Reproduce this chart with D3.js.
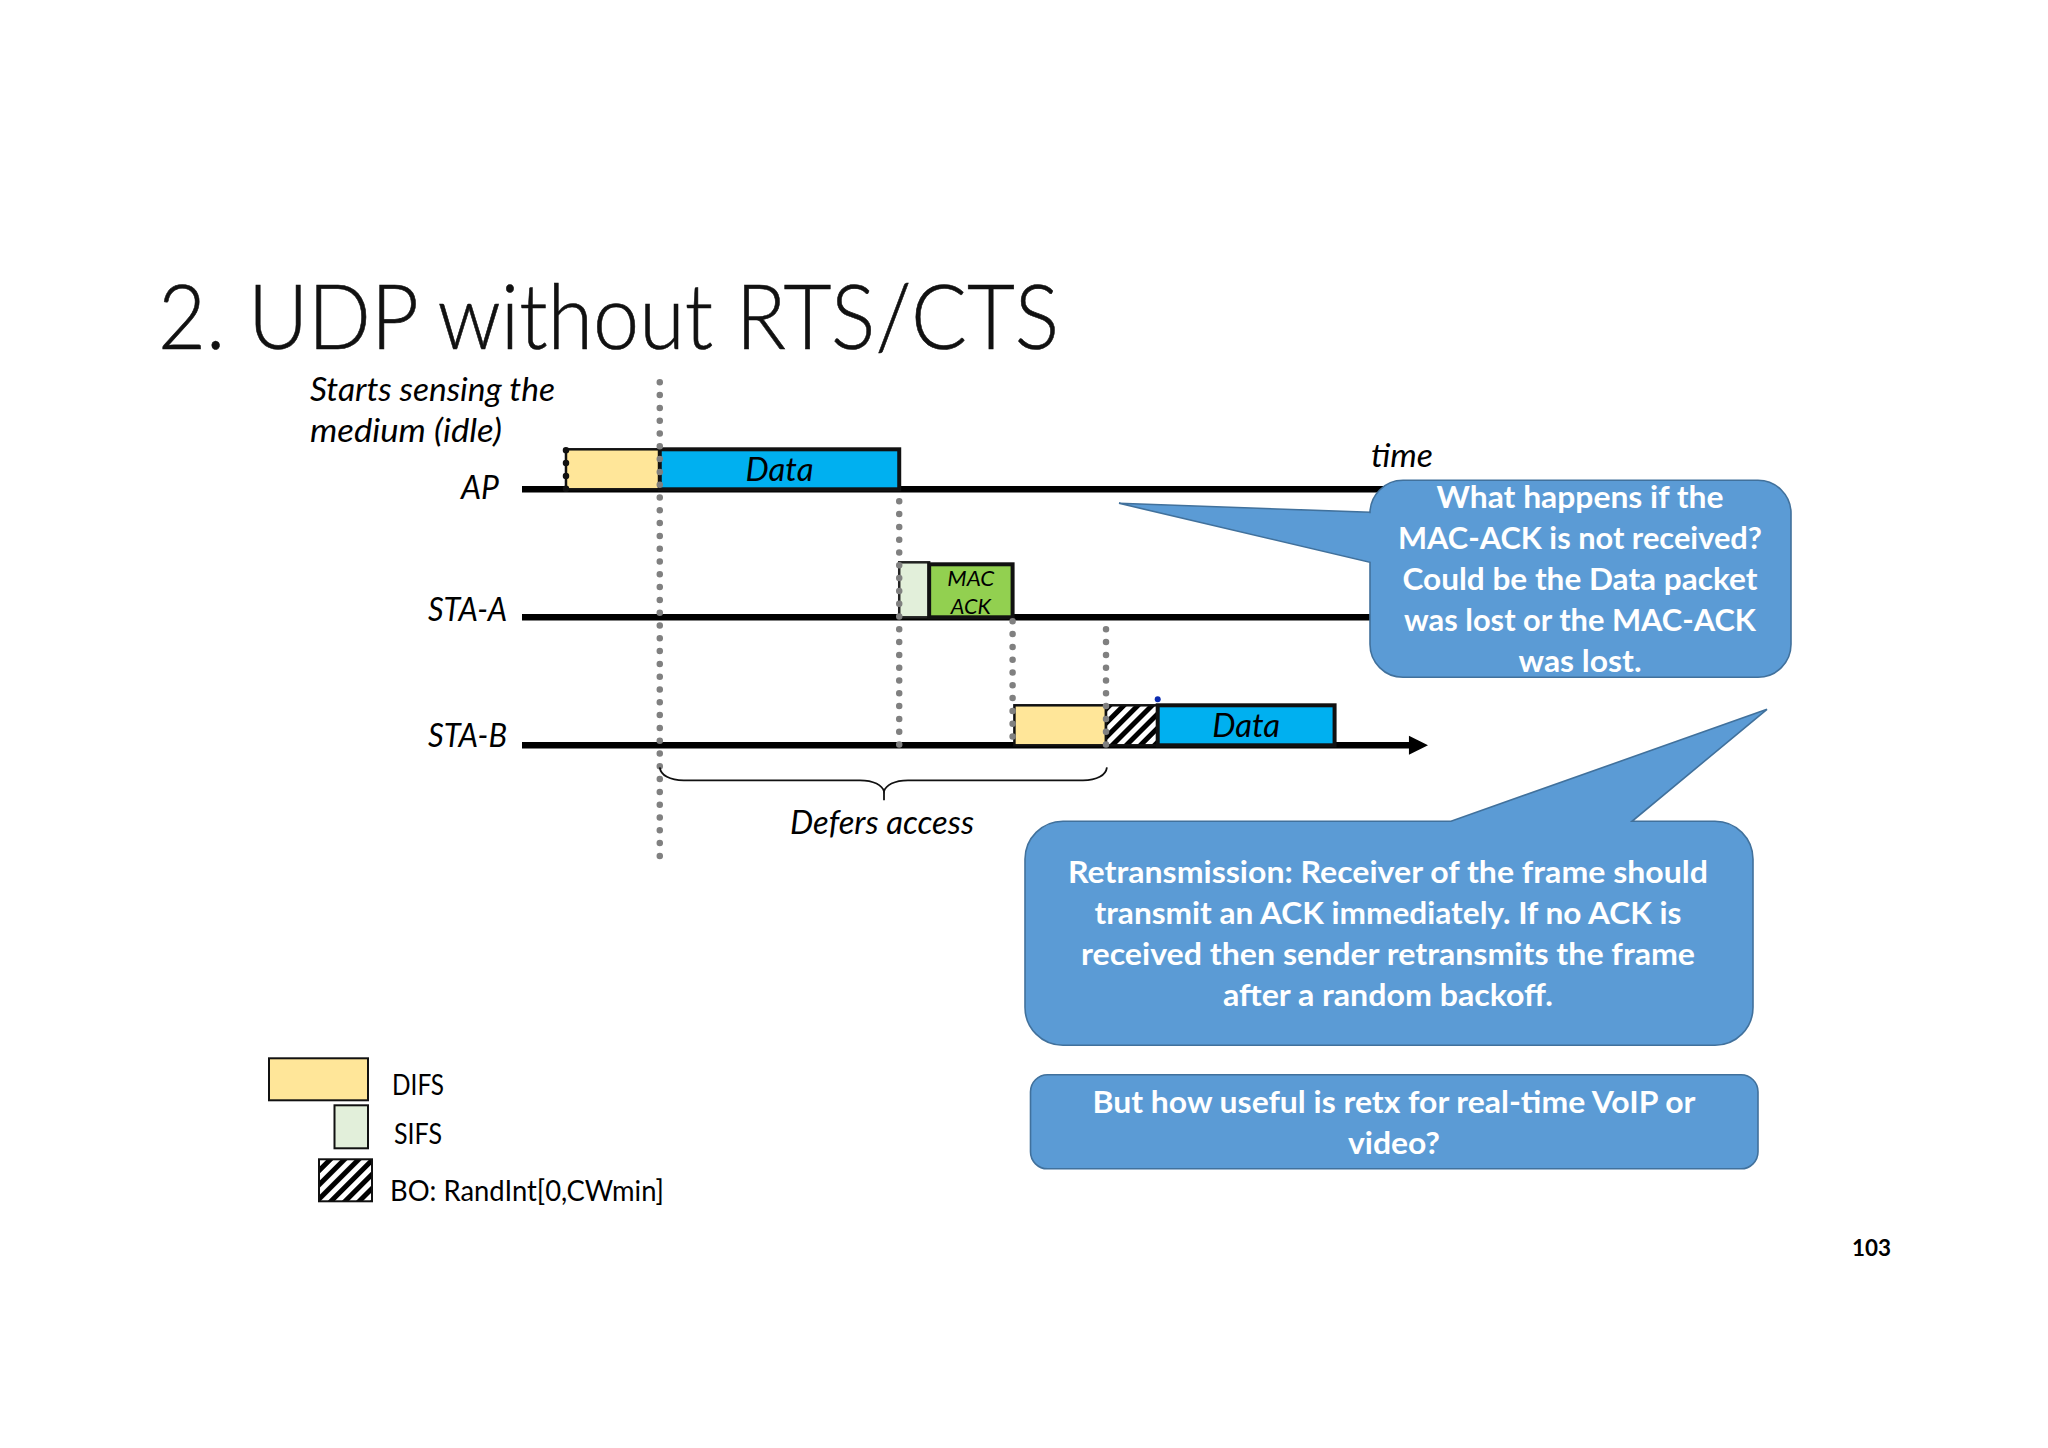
<!DOCTYPE html>
<html>
<head>
<meta charset="utf-8">
<style>
  html, body { margin: 0; background: #fff; }
  svg { display: block; }
  text { font-family: Lato, "Open Sans", sans-serif; }
</style>
<script src="https://cdn.jsdelivr.net/npm/d3@7"></script>
</head>
<body>
<svg id="chart" width="2048" height="1448"></svg>
<script>
const stations = ["AP", "STA-A", "STA-B"];

// frames on the air, time in arbitrary slot units (0-100 along the timeline)
const frameStation = ["AP", "AP", "STA-A", "STA-A", "STA-B", "STA-B", "STA-B"];
const frameKind = ["DIFS", "Data", "SIFS", "ACK", "DIFS", "BO", "Data"];
const frameStart = [4.96, 15.3, 41.7, 45.0, 54.4, 64.5, 70.2];
const frameEnd = [15.3, 41.7, 45.0, 54.2, 64.5, 70.2, 89.7];
const frameLabel = ["", "Data", "", "", "", "", "Data"];

const markerTimes = [15.3, 41.7, 54.2, 64.5];
const deferFrom = 15.3;
const deferTo = 64.6;

const titleText = "2. UDP without RTS/CTS";
const bubble1Lines = ["What happens if the", "MAC-ACK is not received?", "Could be the Data packet", "was lost or the MAC-ACK", "was lost."];
const bubble2Lines = ["Retransmission: Receiver of the frame should", "transmit an ACK immediately. If no ACK is", "received then sender retransmits the frame", "after a random backoff."];
const bubble3Lines = ["But how useful is retx for real-time VoIP or", "video?"];

const root = d3.select("#chart");
const x = d3.scaleLinear().domain([0, 100]).range([521, 1428]);
const y = d3.scalePoint().domain(stations).range([488, 744]);

const kindStyle = {
  DIFS: { fill: "#ffe699", stroke: "#111", sw: 2.5, h: 40 },
  Data: { fill: "#00b0f0", stroke: "#111", sw: 4, h: 40 },
  SIFS: { fill: "#e2efda", stroke: "#222", sw: 2.5, h: 55 },
  ACK: { fill: "#92d050", stroke: "#111", sw: 4, h: 53 },
  BO: { fill: "url(#hatch)", stroke: "#111", sw: 2.5, h: 40 }
};

const defs = root.append("defs");
const hatch = defs.append("pattern").attr("id", "hatch")
  .attr("patternUnits", "userSpaceOnUse").attr("width", 10).attr("height", 10)
  .attr("patternTransform", "rotate(45)");
hatch.append("rect").attr("width", 10).attr("height", 10).attr("fill", "#fff");
hatch.append("rect").attr("width", 5).attr("height", 10).attr("fill", "#000");

// the title sits on the page, everything below it is nudged down a bit
let svg = root;

function label(txt, px, py, size, opts = {}) {
  const t = svg.append("text").attr("x", px).attr("y", py).text(txt)
    .attr("font-size", size)
    .attr("text-anchor", opts.anchor || "start")
    .attr("font-style", opts.style || "normal")
    .attr("font-weight", opts.weight || 400)
    .attr("fill", opts.fill || "#000");
  if (opts.width) t.attr("textLength", opts.width).attr("lengthAdjust", "spacingAndGlyphs");
  return t;
}

function dotted(px, y0, y1, color) {
  svg.append("line").attr("x1", px).attr("x2", px).attr("y1", y0).attr("y2", y1)
    .attr("stroke", color).attr("stroke-width", 6.5)
    .attr("stroke-linecap", "round").attr("stroke-dasharray", "0 12.8");
}

// title
label(titleText, 158, 349, 90, { weight: 300, width: 901, fill: "#111" })
  .attr("stroke", "#111").attr("stroke-width", 0.6);

svg = root.append("g").attr("transform", "translate(0,1.3)");

// timelines
svg.selectAll("line.time").data(stations).join("line").attr("class", "time")
  .attr("x1", x(0) + 1).attr("x2", x(98)).attr("y1", d => y(d)).attr("y2", d => y(d))
  .attr("stroke", "#000").attr("stroke-width", 6.5);
const tip = d3.path();
tip.moveTo(x(97.9), y("STA-B") - 9.5);
tip.lineTo(x(100), y("STA-B"));
tip.lineTo(x(97.9), y("STA-B") + 9.5);
tip.closePath();
svg.append("path").attr("d", tip.toString()).attr("fill", "#000");

// frames
d3.range(frameKind.length).forEach(i => {
  const s = kindStyle[frameKind[i]];
  svg.append("rect")
    .attr("x", x(frameStart[i])).attr("width", x(frameEnd[i]) - x(frameStart[i]))
    .attr("y", y(frameStation[i]) - s.h).attr("height", s.h)
    .attr("fill", s.fill).attr("stroke", s.stroke).attr("stroke-width", s.sw);
  if (frameLabel[i]) {
    label(frameLabel[i], (x(frameStart[i]) + x(frameEnd[i])) / 2, y(frameStation[i]) - 8, 32,
      { anchor: "middle", style: "italic", width: 68 });
  }
});
const ackMid = (x(frameStart[3]) + x(frameEnd[3])) / 2;
label("MAC", ackMid, 584.5, 22, { anchor: "middle", style: "italic", width: 47 });
label("ACK", ackMid, 612.5, 22, { anchor: "middle", style: "italic", width: 40 });

// dotted markers
dotted(x(frameStart[0]), 449, 488, "#111");
dotted(x(markerTimes[0]), 381, 857, "#808080");
dotted(x(markerTimes[1]), 500, 744, "#808080");
dotted(x(markerTimes[2]), 620, 744, "#808080");
dotted(x(markerTimes[3]), 628, 745, "#808080");
svg.append("circle").attr("cx", x(frameStart[6])).attr("cy", 698).attr("r", 3).attr("fill", "#0b2bb0");

// brace under deferred period
const bx0 = x(deferFrom), bx1 = x(deferTo), bm = 884;
const brace = d3.path();
brace.moveTo(bx0, 766);
brace.bezierCurveTo(bx0 + 1, 774, bx0 + 10, 779, bx0 + 24, 779);
brace.lineTo(bm - 24, 779);
brace.bezierCurveTo(bm - 10, 779, bm - 2, 784, bm, 790);
brace.bezierCurveTo(bm + 2, 784, bm + 10, 779, bm + 24, 779);
brace.lineTo(bx1 - 24, 779);
brace.bezierCurveTo(bx1 - 10, 779, bx1 - 1, 774, bx1, 766);
svg.append("path").attr("d", brace.toString()).attr("fill", "none").attr("stroke", "#111").attr("stroke-width", 1.8);
svg.append("line").attr("x1", bm).attr("x2", bm).attr("y1", 788).attr("y2", 799).attr("stroke", "#111").attr("stroke-width", 1.8);

// italic labels
label("Starts sensing the", 310, 399.5, 32, { style: "italic", width: 245 });
label("medium (idle)", 310, 440.5, 32, { style: "italic", width: 192 });
label("AP", 499, 497.5, 32, { style: "italic", anchor: "end", width: 38 });
label("STA-A", 507, 619.5, 32, { style: "italic", anchor: "end", width: 79 });
label("STA-B", 507, 745.5, 32, { style: "italic", anchor: "end", width: 79 });
label("Defers access", 790, 832.5, 32, { style: "italic", width: 184 });
label("time", 1371, 465.5, 32, { style: "italic", width: 62 });

// callouts: rounded box with a tail
function callout(l, t, r, b, rad, tail, side) {
  const p = d3.path();
  p.moveTo(l + rad, t);
  if (side === "top") {
    p.lineTo(tail[0][0], tail[0][1]);
    p.lineTo(tail[1][0], tail[1][1]);
    p.lineTo(tail[2][0], tail[2][1]);
  }
  p.lineTo(r - rad, t);
  p.arcTo(r, t, r, t + rad, rad);
  p.lineTo(r, b - rad);
  p.arcTo(r, b, r - rad, b, rad);
  p.lineTo(l + rad, b);
  p.arcTo(l, b, l, b - rad, rad);
  if (side === "left") {
    p.lineTo(tail[2][0], tail[2][1]);
    p.lineTo(tail[1][0], tail[1][1]);
    p.lineTo(tail[0][0], tail[0][1]);
  }
  p.lineTo(l, t + rad);
  p.arcTo(l, t, l + rad, t, rad);
  p.closePath();
  svg.append("path").attr("d", p.toString()).attr("fill", "#5b9bd5").attr("stroke", "#41719c").attr("stroke-width", 1.6);
}

function block(lines, cx, y0, step, widths) {
  lines.forEach((line, i) => {
    label(line, cx, y0 + i * step, 31, { anchor: "middle", weight: 700, fill: "#fff", width: widths[i] });
  });
}

callout(1370, 479, 1791, 676, 33, [[1370, 511], [1119, 502], [1370, 561]], "left");
block(bubble1Lines, 1580, 507, 41, [287, 364, 355, 352, 123]);

callout(1025, 820, 1753, 1044, 38, [[1451, 820], [1767, 708], [1632, 820]], "top");
block(bubble2Lines, 1388, 882, 41, [640, 587, 614, 330]);

callout(1030.5, 1073.5, 1758, 1167.5, 17, null, "none");
block(bubble3Lines, 1394, 1112, 41, [603, 92]);

// legend
const legendRects = [[269, 1057, 99, 42, "#ffe699"], [334.5, 1104, 33.5, 43, "#e2efda"], [319, 1158, 53, 42, "url(#hatch)"]];
svg.selectAll("rect.legend").data(legendRects).join("rect").attr("class", "legend")
  .attr("x", d => d[0]).attr("y", d => d[1]).attr("width", d => d[2]).attr("height", d => d[3])
  .attr("fill", d => d[4]).attr("stroke", "#111").attr("stroke-width", 2);
label("DIFS", 392, 1093.5, 29, { width: 52 });
label("SIFS", 394, 1142.5, 29, { width: 48 });
label("BO: RandInt[0,CWmin]", 390, 1199.5, 29, { width: 274 });

// page number
label("103", 1852, 1255, 23, { weight: 700, width: 39 });
</script>
</body>
</html>
